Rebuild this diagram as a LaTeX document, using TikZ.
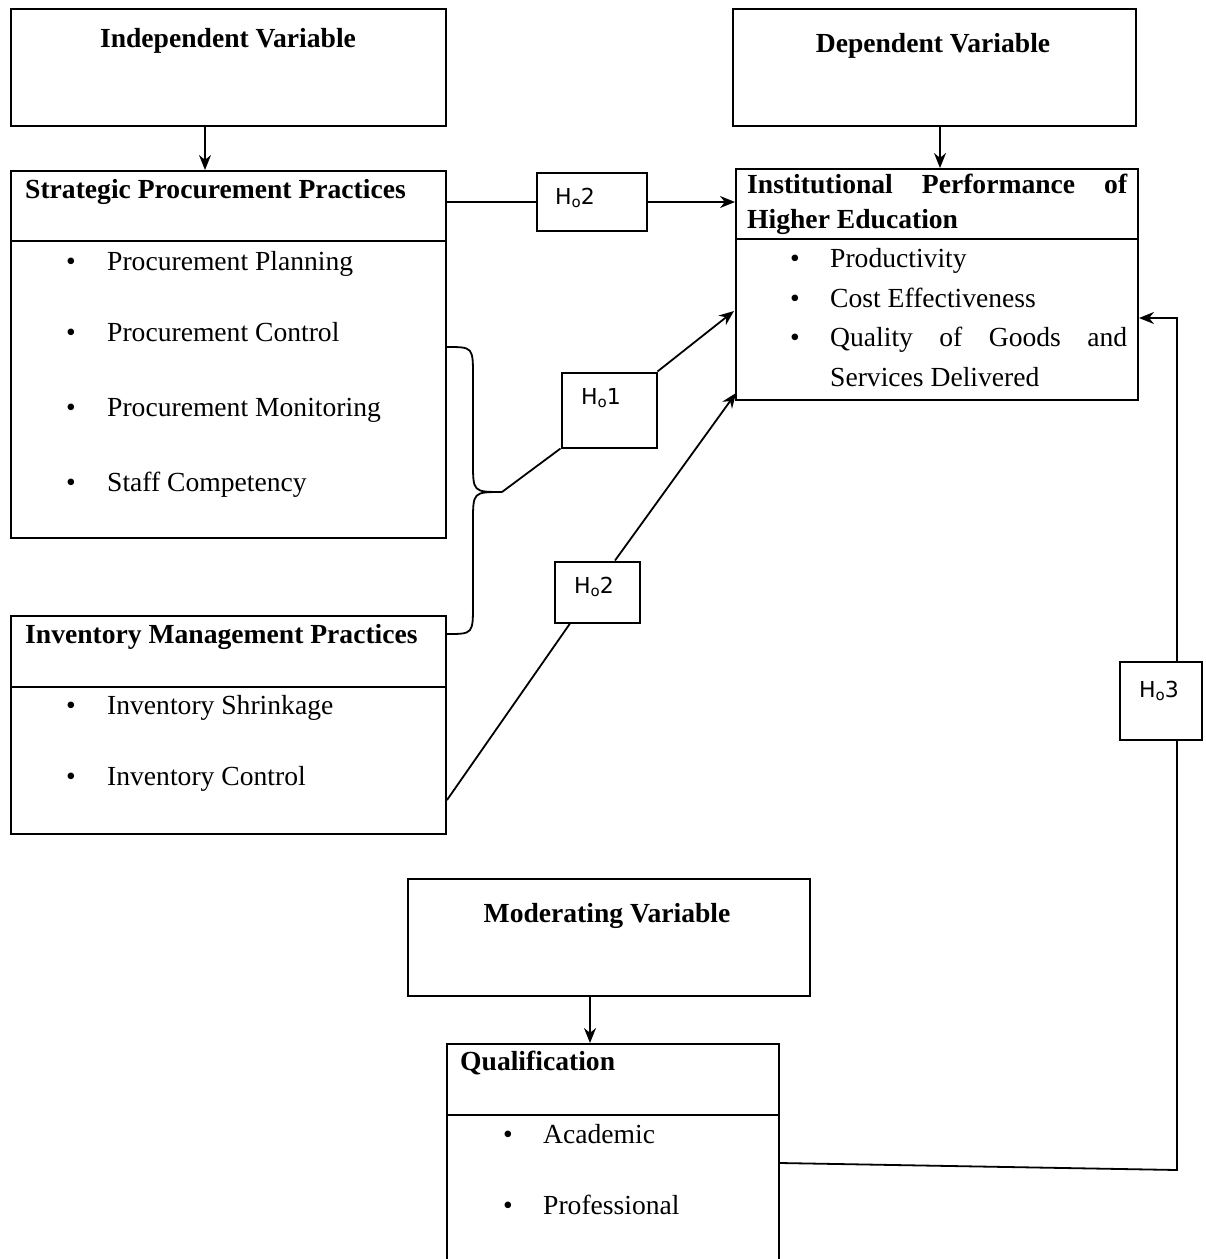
\documentclass[tikz,border=0pt]{standalone}
\usepackage{fontspec}
\setmainfont{Liberation Serif}
\newfontfamily\hfont{DejaVu Sans}
\usetikzlibrary{arrows.meta}
\newcommand{\hyp}[1]{H\raisebox{-3pt}{\fontsize{15}{15}\selectfont o}#1}
\begin{document}
\begin{tikzpicture}[x=1pt,y=-1pt,
  box/.style={draw, line width=2pt, inner sep=0pt, anchor=north west},
  ln/.style={line width=1.8pt},
  arr/.style={line width=1.8pt, -{Stealth[length=15pt,width=12pt]}},
  ttl/.style={font=\fontsize{27.6}{32}\selectfont\bfseries, inner sep=0pt, anchor=base},
  ttlw/.style={font=\fontsize{27.6}{32}\selectfont\bfseries, inner sep=0pt, anchor=base west},
  itm/.style={font=\fontsize{27.6}{32}\selectfont, inner sep=0pt, anchor=base west},
  hbox/.style={draw, line width=2pt, inner sep=0pt},
  hlab/.style={font=\hfont\fontsize{22}{24}\selectfont, inner sep=0pt},
]
\useasboundingbox (0,0) rectangle (1206,1259);
\fill[white] (0,0) rectangle (1206,1259);

% main boxes
\node[box, minimum width=435pt, minimum height=117pt] (iv) at (10,8) {};
\node[box, minimum width=435pt, minimum height=367pt] (spp) at (10,170) {};
\node[box, minimum width=435pt, minimum height=218pt] (imp) at (10,615) {};
\node[box, minimum width=403pt, minimum height=117pt] (dv) at (732,8) {};
\node[box, minimum width=402pt, minimum height=231pt] (ip) at (735,168) {};
\node[box, minimum width=402pt, minimum height=117pt] (mv) at (407,878) {};
\node[box, minimum width=332pt, minimum height=240pt] (qu) at (446,1043) {};

% dividers
\draw[line width=2pt] (spp.west |- 0,241) -- (spp.east |- 0,241);
\draw[line width=2pt] (imp.west |- 0,687) -- (imp.east |- 0,687);
\draw[line width=2pt] (ip.west |- 0,239) -- (ip.east |- 0,239);
\draw[line width=2pt] (qu.west |- 0,1115) -- (qu.east |- 0,1115);

% titles
\node[ttl] (tiv) at (228,47) {Independent Variable};
\node[ttl] (tdv) at (933,52) {Dependent Variable};
\node[ttl] (tmv) at (607,922) {Moderating Variable};
\node[ttlw] (tspp) at (25,198) {Strategic Procurement Practices};
\node[ttlw] (timp) at (25,643) {Inventory Management Practices};
\node[ttlw] (tqu) at (460,1070) {Qualification};
\node[ttlw] (tip1) at (747,193) {\makebox[380pt][s]{Institutional Performance of}};
\node[ttlw] (tip2) at (747,228) {Higher Education};

% items
\node[itm] (s1) at (66,270) {\makebox[41pt][l]{\textbullet}Procurement Planning};
\node[itm] (s2) at (66,341) {\makebox[41pt][l]{\textbullet}Procurement Control};
\node[itm] (s3) at (66,416) {\makebox[41pt][l]{\textbullet}Procurement Monitoring};
\node[itm] (s4) at (66,491) {\makebox[41pt][l]{\textbullet}Staff Competency};
\node[itm] (i1) at (66,714) {\makebox[41pt][l]{\textbullet}Inventory Shrinkage};
\node[itm] (i2) at (66,785) {\makebox[41pt][l]{\textbullet}Inventory Control};
\node[itm] (p1) at (790,267) {\makebox[40pt][l]{\textbullet}Productivity};
\node[itm] (p2) at (790,307) {\makebox[40pt][l]{\textbullet}Cost Effectiveness};
\node[itm] (p3) at (790,346) {\makebox[40pt][l]{\textbullet}\makebox[297pt][s]{Quality of Goods and}};
\node[itm] (p4) at (830,386) {Services Delivered};
\node[itm] (q1) at (503,1143) {\makebox[40pt][l]{\textbullet}Academic};
\node[itm] (q2) at (503,1214) {\makebox[40pt][l]{\textbullet}Professional};

% vertical arrows from variable boxes
\draw[arr] (iv.south -| 205,0) -- (spp.north -| 205,0);
\draw[arr] (dv.south -| 940,0) -- (ip.north -| 940,0);
\draw[arr] (mv.south -| 590,0) -- (qu.north -| 590,0);

% hypothesis boxes
\node[hbox, minimum width=110pt, minimum height=58pt] (h2a) at (592,202) {};
\node[hlab] (l2a) at (575,198) {\hyp{2}};
\node[hbox, minimum width=95pt, minimum height=75pt] (h1) at (609,410) {};
\node[hlab] (l1) at (601,398) {\hyp{1}};
\node[hbox, minimum width=85pt, minimum height=61pt] (h2b) at (597,592) {};
\node[hlab] (l2b) at (594,587) {\hyp{2}};
\node[hbox, minimum width=82pt, minimum height=78pt] (h3) at (1161,701) {};
\node[hlab] (l3) at (1159,691) {\hyp{3}};

% top H2 connector
\draw[ln] (spp.east |- h2a.west) -- (h2a.west);
\draw[arr] (h2a.east) -- (ip.west |- h2a.east);

% brace
\coordinate (bt) at (502,492);
\draw[ln] (spp.east |- 0,347) .. controls (473,347) .. (473,377) -- (473,462)
  .. controls (473,492) .. (bt);
\draw[ln] (bt) .. controls (473,492) .. (473,522) -- (473,604)
  .. controls (473,634) .. (imp.east |- 0,634);

% H1 connectors
\coordinate (ip1) at (734,311);
\draw[ln] (bt) -- (h1.south west);
\draw[arr] (h1.north east) -- (ip1);

% lower H2 connectors
\coordinate (ip2) at (736,393);
\draw[ln] (imp.east |- 0,800) -- (h2b.south -| 570,0);
\draw[arr] (h2b.north -| 615,0) -- (ip2);

% H3 connectors
\coordinate (c3) at (1177,318);
\coordinate (c4) at (1177,1170);
\draw[arr] (h3.north -| c3) -- (c3) -- (ip.east |- c3);
\draw[ln] (qu.east |- 0,1163) -- (c4) -- (h3.south -| c4);
\end{tikzpicture}
\end{document}
